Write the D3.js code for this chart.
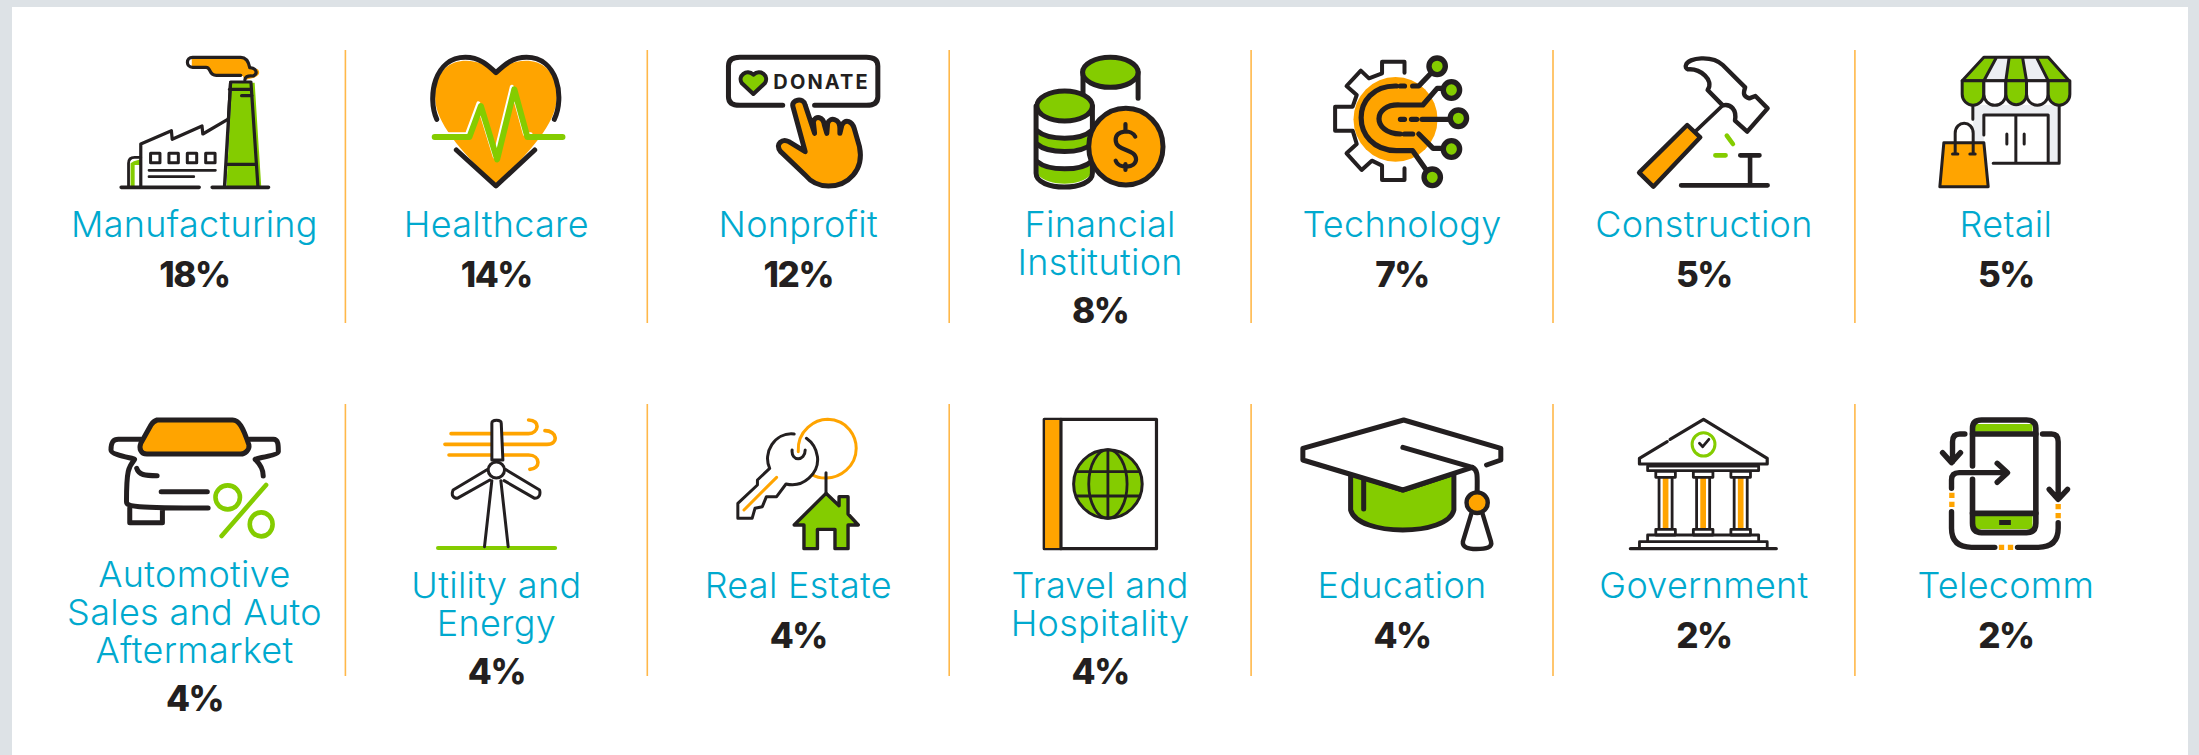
<!DOCTYPE html>
<html>
<head>
<meta charset="utf-8">
<script src="https://cdn.jsdelivr.net/npm/d3@7"></script>
<style>
  body { margin: 0; background: #dde2e6; }
  svg { display: block; }
</style>
</head>
<body>
<div id="canvas"></div>
<script>
// chart data
const names = [
  ['Manufacturing'], ['Healthcare'], ['Nonprofit'], ['Financial', 'Institution'], ['Technology'], ['Construction'], ['Retail'],
  ['Automotive', 'Sales and Auto', 'Aftermarket'], ['Utility and', 'Energy'], ['Real Estate'], ['Travel and', 'Hospitality'], ['Education'], ['Government'], ['Telecomm']
];
const shares = [18, 14, 12, 8, 7, 5, 5, 4, 4, 4, 4, 4, 2, 2];

// colours
const ink = '#231f20';
const orange = '#ffa400';
const green = '#84cc00';
const blue = '#00a9ce';
const grey = '#eceef2';

// page dimensions
const width = 2199;
const height = 755;
const perRow = 7;

const svg = d3.select('#canvas')
  .append('svg')
  .attr('width', width)
  .attr('height', height);

// white panel on the grey page
svg.append('rect')
  .attr('x', 12).attr('y', 7)
  .attr('width', 2176).attr('height', height - 7)
  .attr('fill', '#fff');

// grid scales
const x = d3.scaleBand().domain(d3.range(perRow)).range([43.5, 2156.8]);
const y = d3.scalePoint().domain([0, 1]).range([0, 361]);

// icon helpers: each icon is traced in its own artboard, stretched sx by 3
const ell = (cx, cy, rx, ry) => `M${cx - rx} ${cy}A${rx} ${ry} 0 1 0 ${cx + rx} ${cy}A${rx} ${ry} 0 1 0 ${cx - rx} ${cy}Z`;
const box = (x0, y0, x1, y1) => `M${x0} ${y0}L${x1} ${y0}L${x1} ${y1}L${x0} ${y1}Z`;
const shape = (d, fill, stroke, sw) => ({ d, fill: fill || 'none', stroke: stroke || 'none', sw: sw || 0 });

const iconArt = {
  Manufacturing: { cx: 476.5, sx: 2.45, top: 0, shapes: [
    shape('M470 176L600 174Q612 190 612 204L632 208Q642 225 620 234L600 240L595 228L525 228L505 204L470 202Z', orange),
    shape('M600 240C600 232 605 226 620 228C632 222 630 205 612 203C610 190 605 172 590 172L472 172C455 172 455 202 472 202L505 202C518 202 510 226 530 226L590 226', 'none', ink, 3.2),
    shape('M568 250L624 248L640 558L555 558Z', green),
    shape('M565 246L615 246M565 248L550 560M615 248L632 560M562 268L612 268M592 287L618 287M556 493L628 493', 'none', ink, 3.2),
    shape('M558 356L497 402L495 378L422 418L420 392L345 432L345 560L550 560L558 356Z', '#fff'),
    shape('M328 484L345 478L345 495L330 495L330 560L320 560L320 490Z', green),
    shape('M345 560L345 432L420 392L422 418L495 378L497 402L558 358', 'none', ink, 3.2),
    shape('M550 560L565 248', 'none', ink, 3.2),
    shape(box(369, 460, 392, 488) + box(414, 460, 437, 488) + box(459, 460, 482, 488) + box(504, 460, 527, 488), '#fff', ink, 3),
    shape('M365 511L528 511M365 530L475 530', 'none', ink, 2.6),
    shape('M345 472L330 472Q315 472 315 490L315 560', 'none', ink, 2.8),
    shape('M297 562L488 562M520 562L658 562', 'none', ink, 3.6)
  ] },
  Healthcare: { cx: 1216, sx: 2.45, top: 0, shapes: [
    shape('M1215 218C1180 170 1066 150 1066 290C1066 350 1100 420 1215 555C1330 420 1364 350 1364 290C1364 150 1250 170 1215 218Z', orange),
    shape('M1070 358C1046 290 1064 172 1140 172C1175 172 1195 195 1215 218C1235 195 1255 172 1290 172C1366 172 1384 290 1358 358', 'none', ink, 5),
    shape('M1118 450L1215 558L1310 450', 'none', ink, 5),
    shape('M1065 403L1144 403L1172 310L1212 470L1254 260L1286 403L1300 403', 'none', '#fff', 4),
    shape('M1065 411L1150 411L1178 318L1218 478L1260 268L1292 411L1378 411', 'none', green, 6)
  ] },
  Nonprofit: { cx: 388, sx: 2.45, top: 0, text: { label: 'DONATE', x: 327, y: 268, size: 60, length: 231 }, shapes: [
    shape('M350 316L245 316Q217 316 217 290L217 198Q217 172 245 172L555 172Q583 172 583 198L583 290Q583 316 555 316L428 316', 'none', ink, 5),
    shape('M278 282L250 250C238 228 262 205 278 224C295 205 318 228 306 250Z', green, ink, 4),
    shape('M375 320C370 300 400 290 405 315L428 400L425 365C430 345 450 350 452 375L458 400L460 370C465 350 490 355 490 385L490 400L495 375C505 355 520 365 525 385L538 440C550 510 510 558 462 558C430 558 415 540 405 525L345 455C330 430 350 415 365 425L405 455Z', orange, ink, 5)
  ] },
  'Financial': { cx: 1127, sx: 2.45, top: 0, shapes: [
    shape('M1085 217L1085 280M1220 217L1220 295', 'none', ink, 5),
    shape(ell(1152, 217, 68, 45), green, ink, 5),
    shape('M970 318L970 520C970 575 1108 575 1108 520L1108 318Z', '#fff'),
    shape('M975 400C1000 420 1080 420 1103 400L1103 430C1080 455 1000 455 975 430Z', green),
    shape('M975 495C1000 515 1080 515 1103 495L1103 525C1080 560 1000 560 975 525Z', green),
    shape('M970 318L970 520C970 575 1108 575 1108 520L1108 318', 'none', ink, 5),
    shape('M972 392C1000 422 1080 422 1106 392M972 432C1000 462 1080 462 1106 432M972 484C1000 514 1080 514 1106 484', 'none', ink, 5),
    shape(ell(1040, 318, 68, 45), green, ink, 5),
    shape(ell(1190, 440, 91, 115), orange, ink, 5),
    shape('M1213 410C1205 388 1165 388 1165 420C1165 455 1215 445 1215 478C1215 505 1172 508 1165 482M1189 372L1189 395M1189 492L1189 510', 'none', ink, 4.2)
  ] },
  Technology: { cx: 299, sx: 2.45, top: 0, shapes: [
    shape(ell(283, 358, 103, 127), orange),
    shape('M305 218L305 185L250 185L250 220L218 235L198 212L163 258L188 285L178 320L135 320L135 392L178 392L188 432L163 460L200 510L225 482L250 497L250 540L305 540L305 505', 'none', ink, 4),
    shape('M285 258C170 255 170 450 285 452L325 452L370 530M295 258L305 258M325 258L340 258L385 200', 'none', ink, 5.2),
    shape('M295 315C225 310 225 400 295 402M295 315L350 315L385 265L420 265M295 358L305 358M322 358L335 358M348 358L435 358M305 402L325 402M340 402L375 445L420 445', 'none', ink, 5.2),
    ...[[385, 199], [420, 270], [437, 355], [420, 447], [373, 532]].map(n => shape(ell(n[0], n[1], 20, 25), green, ink, 5.4))
  ] },
  Construction: { cx: 1039, sx: 2.45, top: 0, shapes: [
    shape('M995 195C1000 172 1060 165 1085 195L1140 262C1135 280 1135 290 1150 295L1165 288L1195 325L1145 395L1115 362C1120 330 1105 310 1085 316L1048 270C1065 240 1030 205 1000 208C995 206 993 200 995 195Z', 'none', ink, 4.4),
    shape('M1085 316L1020 392', 'none', ink, 3.6),
    shape('M998 375L1030 412L915 560L880 518Z', orange, ink, 4.4),
    shape('M1095 407L1110 432M1067 466L1092 466', 'none', green, 4.6),
    shape('M1128 466L1175 466M1152 466L1152 553M983 556L1195 556', 'none', ink, 4.6)
  ] },
  Retail: { cx: 618, sx: 3, top: 0, shapes: [
    shape(box(520, 315, 778, 490), grey),
    shape(box(552, 345, 745, 490), '#fff'),
    shape('M590 172L628 172L618 242L552 242ZM668 172L710 172L745 242L680 242Z', grey),
    shape('M552 172L590 172L552 242L487 242ZM628 172L668 172L680 242L618 242ZM710 172L745 172L808 242L745 242Z', green),
    shape('M552 172L745 172L808 242L487 242ZM590 172L552 242M628 172L618 242M668 172L680 242M710 172L745 242', 'none', ink, 3),
    shape('M487 242L487 283A32.5 32.5 0 0 0 552 283L552 242Z', green, ink, 3),
    shape('M552 242L552 283A33 33 0 0 0 618 283L618 242Z', '#fff', ink, 3),
    shape('M618 242L618 283A31 31 0 0 0 680 283L680 242Z', green, ink, 3),
    shape('M680 242L680 283A32.5 32.5 0 0 0 745 283L745 242Z', '#fff', ink, 3),
    shape('M745 242L745 283A32.5 32.5 0 0 0 810 283L810 242Z', green, ink, 3),
    shape('M519 318L519 358M778 318L778 490L580 490M552 405L552 345L745 345L745 490M648 345L648 490M621 402L621 432M673 402L673 432', 'none', ink, 3),
    shape('M432 428L552 428L565 560L420 560Z', orange, ink, 3),
    shape('M466 460L466 400C466 360 520 360 520 400L520 460M458 462L474 462M510 462L526 462', 'none', ink, 3)
  ] },
  Automotive: { cx: 476.5, sx: 2.45, top: 390, shapes: [
    shape('M385 90L570 90C585 90 595 110 610 165C612 180 600 192 590 192L360 192C345 192 340 175 345 160L370 105C375 95 380 92 385 90Z', orange, ink, 5),
    shape('M345 148L290 148C275 148 272 160 272 180C272 195 330 205 330 208C315 230 310 240 310 335C310 350 330 354 510 354M318 354L318 398L398 398L398 354', 'none', ink, 5),
    shape('M612 148L670 148C682 148 682 165 682 185C682 195 625 205 625 208C640 225 645 240 645 258', 'none', ink, 5),
    shape('M335 235C340 255 355 257 385 257M395 305L508 305', 'none', ink, 5),
    shape(ell(558, 322, 30, 36) + ell(640, 403, 28, 36) + 'M652 285L543 438', 'none', green, 4.6)
  ] },
  Utility: { cx: 1216, sx: 2.45, top: 390, shapes: [
    shape('M1105 131L1295 131C1320 131 1325 90 1295 90M1090 163L1340 163C1370 163 1365 122 1335 122M1100 195L1295 195C1325 195 1325 238 1298 238', 'none', orange, 3.6),
    shape('M1073 474L1360 474', 'none', green, 4),
    shape('M1205 210L1205 100C1205 88 1228 88 1228 100L1232 210Z', '#fff', ink, 3),
    shape('M1195 238L1110 300C1105 315 1110 325 1120 325L1200 270M1238 238L1322 300C1325 315 1320 325 1310 325L1235 272M1205 272L1187 470M1227 272L1245 470', '#fff', ink, 3),
    shape(ell(1216, 240, 20, 24), '#fff', ink, 3)
  ] },
  'Real Estate': { cx: 388, sx: 2.45, top: 390, shapes: [
    shape('M388 185C385 120 430 88 460 88C510 90 530 140 530 175C530 230 490 265 455 264C440 264 430 260 422 254', 'none', orange, 3),
    shape('M378 132C330 125 300 190 318 235L288 270L288 285L240 340L240 385L275 385L282 355L300 350L310 320L335 320L358 282C400 295 440 250 435 200C432 175 420 155 408 145M373 180C370 215 405 215 405 180', 'none', ink, 3),
    shape('M255 360L335 262', 'none', orange, 3),
    shape('M456 248L456 310', 'none', ink, 3),
    shape('M456 310L488 347L488 320L510 320L510 372L535 405L510 405L510 476L478 476L478 418L435 418L435 476L402 476L402 405L378 405Z', green, ink, 3.4)
  ] },
  Travel: { cx: 1127, sx: 2.45, top: 390, shapes: [
    shape(box(990, 88, 1265, 476), '#fff', ink, 3.2),
    shape(box(992, 90, 1030, 474), orange),
    shape('M1031 88L1031 476', 'none', ink, 3.2),
    shape(ell(1146, 282, 84, 103), green, ink, 3),
    shape(ell(1146, 282, 47, 103) + 'M1146 179L1146 385M1070 245L1222 245M1070 318L1222 318', 'none', ink, 2.8)
  ] },
  Education: { cx: 348, sx: 2.45, top: 390, shapes: [
    shape('M222 250L222 360C240 440 460 440 475 360L475 250L350 300Z', green, ink, 5),
    shape('M555 225L590 210L590 175L352 90L105 175L105 210L350 300L520 232', '#fff'),
    shape('M555 225L590 210L590 175L352 90L105 175L105 210L350 300L520 232', 'none', ink, 5),
    shape('M254 268L254 357', 'none', ink, 5),
    shape('M350 172L520 232C535 240 532 260 532 305', 'none', ink, 5),
    shape(ell(532, 338, 26, 31), orange, ink, 4.4),
    shape('M518 370L497 455C495 472 510 477 530 477C555 477 570 472 566 455L545 370', 'none', ink, 4.4)
  ] },
  Government: { cx: 1088, sx: 2.45, top: 390, shapes: [
    shape('M998 155L930 205L930 222L1243 222L1243 205L1087 88L1005 148', 'none', ink, 3.2),
    shape(ell(1087, 163, 28, 35), 'none', green, 3),
    shape('M1077 160L1085 170L1100 148', 'none', ink, 2.8),
    shape(box(950, 228, 1222, 242), 'none', ink, 2.8),
    ...[994, 1086, 1178].map(c => shape(box(c - 7, 262, c + 7, 418), orange)),
    ...[994, 1086, 1178].map(c => shape(box(c - 24, 244, c + 24, 262) + box(c - 16, 262, c + 16, 418) + box(c - 24, 418, c + 24, 435), 'none', ink, 2.8)),
    shape(box(950, 435, 1222, 455) + box(930, 455, 1243, 475), 'none', ink, 2.8),
    shape('M908 476L1265 476', 'none', ink, 3.4)
  ] },
  Telecomm: { cx: 498, sx: 3, top: 390, shapes: [
    shape('M405 102L578 102L578 125L405 125ZM405 375L578 375L578 418L405 418Z', green),
    shape('M398 228L398 115Q398 90 425 90L560 90Q588 90 588 115L588 400Q588 428 560 428L425 428Q398 428 398 400L398 268', 'none', ink, 5.6),
    shape('M398 132L588 132M398 370L588 370', 'none', ink, 5.6),
    shape(box(478, 390, 513, 405), ink),
    shape('M335 295L335 270Q335 248 358 248L500 248M472 220L503 248L472 277', 'none', ink, 5.4),
    shape('M375 132L360 132Q338 132 338 155L338 215M308 188L335 218L362 188', 'none', ink, 5.4),
    shape('M608 132L635 132Q655 132 655 155L655 325M628 298L655 328L683 298', 'none', ink, 5.4),
    shape('M335 365L335 415Q335 472 395 472L465 472M533 472L595 472Q655 472 655 415L655 398', 'none', ink, 5.4),
    shape(box(328, 308, 344, 324) + box(328, 335, 344, 351) + box(647, 342, 663, 358) + box(647, 369, 663, 385) + box(477, 464, 493, 480) + box(504, 464, 520, 480), orange)
  ] }
};

// one cell per industry
const cells = svg.selectAll('g.cell')
  .data(names)
  .enter()
  .append('g')
  .attr('class', 'cell')
  .attr('transform', (d, i) => `translate(${x(i % perRow) + x.bandwidth() / 2}, ${y(Math.floor(i / perRow))})`);

// icons
cells.each(function (d, i) {
  const art = iconArt[d[0].split(' and')[0]];
  const rowOffset = art.top - y(Math.floor(i / perRow));
  const icon = d3.select(this).append('g')
    .attr('transform', `translate(0, ${rowOffset}) scale(${1 / art.sx}, ${1 / 3}) translate(${-art.cx}, 0)`);
  icon.selectAll('path')
    .data(art.shapes)
    .enter()
    .append('path')
    .attr('d', s => s.d)
    .attr('fill', s => s.fill)
    .attr('fill-rule', 'evenodd')
    .attr('stroke', s => s.stroke)
    .attr('stroke-width', s => s.sw)
    .attr('stroke-linecap', 'round')
    .attr('stroke-linejoin', 'round')
    .attr('vector-effect', 'non-scaling-stroke');
  if (art.text) {
    // undo the artboard stretch so the letters keep their shape
    const squeeze = art.sx / 3;
    icon.append('text')
      .attr('transform', `translate(${art.text.x}, ${art.text.y}) scale(${squeeze}, 1)`)
      .attr('font-family', 'Inter, sans-serif')
      .attr('font-weight', 700)
      .attr('font-size', art.text.size)
      .attr('fill', ink)
      .attr('textLength', art.text.length / squeeze)
      .attr('lengthAdjust', 'spacing')
      .text(art.text.label);
  }
});

// industry names
const lineHeight = 38;
const nameBase = 237;
cells.append('text')
  .attr('class', 'name')
  .attr('text-anchor', 'middle')
  .attr('font-family', 'Inter, sans-serif')
  .attr('font-weight', 300)
  .attr('font-size', 36)
  .attr('letter-spacing', 0.3)
  .attr('fill', blue)
  .selectAll('tspan')
  .data(d => d.map(line => ({ line, count: d.length })))
  .enter()
  .append('tspan')
  .attr('x', 0)
  .attr('y', (d, i) => nameBase + i * lineHeight - (d.count === 3 ? 11 : 0))
  .text(d => d.line);

// percentages
cells.append('text')
  .attr('class', 'share')
  .attr('text-anchor', 'middle')
  .attr('font-family', 'Inter, sans-serif')
  .attr('font-weight', 800)
  .attr('font-size', 35)
  .attr('letter-spacing', -1.5)
  .attr('fill', ink)
  .attr('y', (d, i) => nameBase + (d.length - 1) * lineHeight - (d.length === 3 ? 11 : 0) + (d.length > 1 ? 48 : 50))
  .text((d, i) => `${shares[i]}%`);

// separators between columns
const separators = d3.cross([0, 1], d3.range(1, perRow));
svg.selectAll('line.separator')
  .data(separators)
  .enter()
  .append('line')
  .attr('class', 'separator')
  .attr('x1', d => x(d[1]))
  .attr('x2', d => x(d[1]))
  .attr('y1', d => (d[0] ? 404 : 50))
  .attr('y2', d => (d[0] ? 676 : 323))
  .attr('stroke', '#ffb84a')
  .attr('stroke-width', 1.6);
</script>
</body>
</html>
